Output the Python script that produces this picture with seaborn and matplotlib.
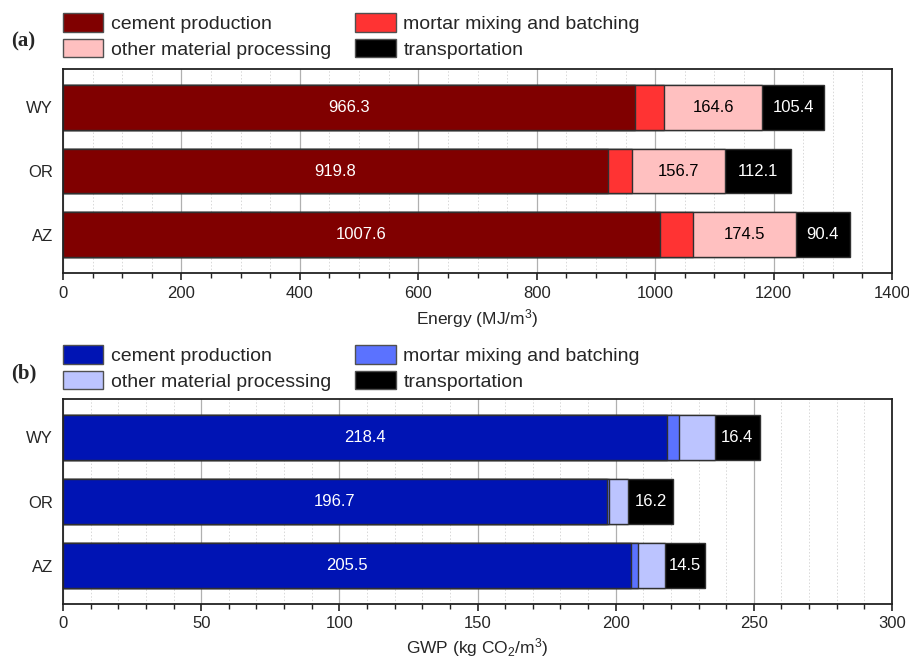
import matplotlib
matplotlib.use("Agg")
import matplotlib.pyplot as plt
from matplotlib.patches import Patch
from matplotlib.ticker import MultipleLocator
import numpy as np
import pandas as pd
import seaborn as sns

# Sites, top to bottom
sites = ["WY", "OR", "AZ"]
stages = ["cement production", "mortar mixing and batching",
          "other material processing", "transportation"]

# Embodied energy (MJ/m3) by stage
energy_cement = [966.3, 919.8, 1007.6]
energy_mortar = [49.5, 41.0, 56.0]
energy_other = [164.6, 156.7, 174.5]
energy_transport = [105.4, 112.1, 90.4]

# Global warming potential (kg CO2/m3) by stage
gwp_cement = [218.4, 196.7, 205.5]
gwp_mortar = [4.7, 0.9, 2.6]
gwp_other = [12.7, 6.9, 9.7]
gwp_transport = [16.4, 16.2, 14.5]

red_colors = ["#800000", "#ff3333", "#ffc0c0", "#000000"]
blue_colors = ["#0014b4", "#5b72ff", "#bcc4ff", "#000000"]

sns.set_theme(style="white")
plt.rcParams["font.family"] = ["Liberation Sans", "DejaVu Sans"]
plt.rcParams["mathtext.fontset"] = "custom"
plt.rcParams["mathtext.rm"] = "Liberation Sans"
plt.rcParams["mathtext.it"] = "Liberation Sans:italic"

fig = plt.figure(figsize=(9.09, 6.59), dpi=100)
W, H = 909, 659


def px_axes(x0, y0, x1, y1):
    return fig.add_axes([x0 / W, 1 - y1 / H, (x1 - x0) / W, (y1 - y0) / H])


def stacked_panel(ax, layers, colors, xmax, major, minor, xlabel, tag,
                  legend_top, labelled, labelpad):
    df = pd.DataFrame({"site": sites})
    cum = np.cumsum(np.array(layers, dtype=float), axis=0)
    for i in range(len(layers)):
        df[f"cum{i}"] = cum[i]
    # Draw cumulative totals from the outermost layer inward so segments stack
    for i in reversed(range(len(layers))):
        sns.barplot(data=df, x=f"cum{i}", y="site", order=sites, orient="h",
                    color=colors[i], saturation=1, width=0.7,
                    edgecolor="#303030", linewidth=1.0, ax=ax, zorder=2)

    # Value labels centred in the chosen segments
    starts = cum - np.array(layers, dtype=float)
    text_colors = ["white", "white", "black", "white"]
    for i in labelled:
        for j in range(len(sites)):
            ax.text(starts[i][j] + layers[i][j] / 2, j, f"{layers[i][j]:.1f}",
                    color=text_colors[i], ha="center", va="center",
                    fontsize=12, zorder=3)

    ax.set_xlim(0, xmax)
    ax.set_ylim(2.6, -0.6)
    ax.xaxis.set_major_locator(MultipleLocator(major))
    ax.xaxis.set_minor_locator(MultipleLocator(minor))
    ax.set_axisbelow(True)
    ax.grid(True, which="major", axis="x", color="#b0b0b0", linewidth=0.9, linestyle="-")
    ax.grid(True, which="minor", axis="x", color="#d8d8d8", linewidth=0.7, linestyle=(0, (1.5, 2)))
    ax.grid(False, axis="y")
    for s in ax.spines.values():
        s.set_visible(True)
        s.set_color("#222222")
        s.set_linewidth(1.3)
    ax.tick_params(axis="x", which="major", direction="out", length=5, width=1.2,
                   color="#222222", labelsize=12, pad=4, bottom=True)
    ax.tick_params(axis="x", which="minor", direction="out", length=3.5, width=1.0,
                   color="#222222", bottom=True)
    ax.tick_params(axis="y", length=0, labelsize=12, pad=7)
    ax.set_ylabel("")
    ax.set_xlabel(xlabel, fontsize=12.5, labelpad=labelpad)

    # Legend filled row by row: (cement, mortar) then (other, transport)
    order = [0, 2, 1, 3]
    handles = [Patch(facecolor=colors[k], edgecolor="#505050", linewidth=1.0) for k in order]
    labels = [stages[k] for k in order]
    fig.legend(handles, labels, ncol=2, frameon=False, fontsize=14,
               loc="upper left", bbox_to_anchor=(62.5 / W, 1 - legend_top / H),
               bbox_transform=fig.transFigure, borderpad=0, borderaxespad=0,
               handlelength=2.1, handleheight=1.1, handletextpad=0.4,
               labelspacing=0.3, columnspacing=1.2)
    fig.text(11 / W, 1 - (legend_top + 28) / H, tag, fontsize=15, fontweight="bold",
             family="Liberation Serif", ha="left", va="center")


ax1 = px_axes(63, 69, 892, 273)
stacked_panel(ax1, [energy_cement, energy_mortar, energy_other, energy_transport],
              red_colors, 1400, 200, 50, r"Energy (MJ/m$^3$)", "(a)", 13,
              labelled=[0, 2, 3], labelpad=5)

ax2 = px_axes(63, 399, 892, 604)
stacked_panel(ax2, [gwp_cement, gwp_mortar, gwp_other, gwp_transport],
              blue_colors, 300, 50, 10, r"GWP (kg CO$_2$/m$^3$)", "(b)", 345,
              labelled=[0, 3], labelpad=3)

fig.savefig("out.png", dpi=100)
